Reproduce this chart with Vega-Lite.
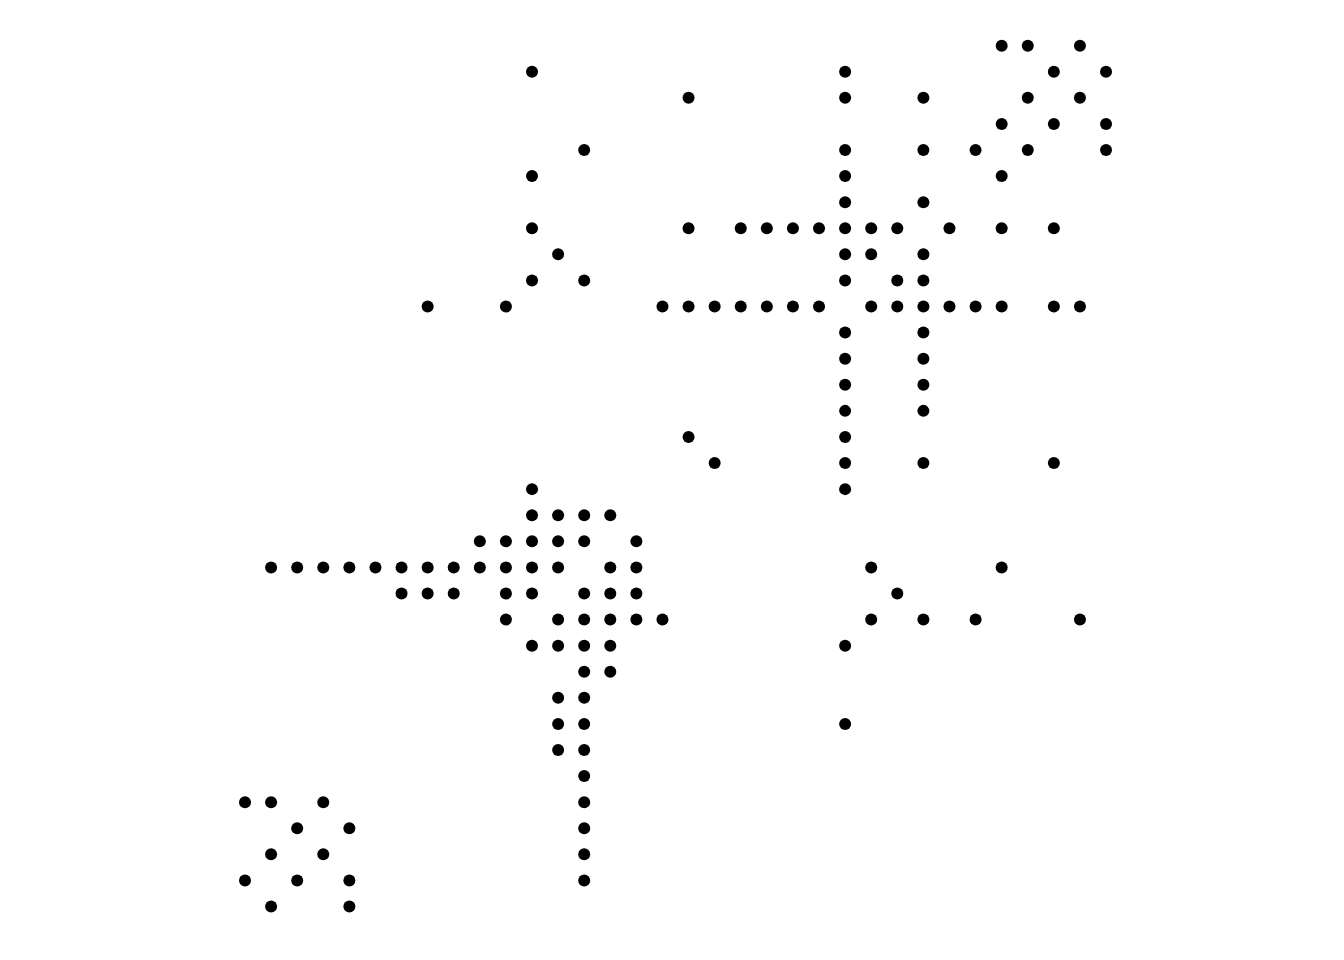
{
  "$schema": "https://vega.github.io/schema/vega-lite/v6.json",
  "description": "Sparse matrix pattern drawn as black dots on a 34 x 34 grid.",
  "width": 1344,
  "height": 960,
  "autosize": "none",
  "padding": 0,
  "background": "white",
  "config": {"view": {"stroke": null}},
  "data": {
    "values": [
      {"col": 29, "row": 0}, {"col": 30, "row": 0}, {"col": 32, "row": 0},
      {"col": 11, "row": 1}, {"col": 23, "row": 1}, {"col": 31, "row": 1}, {"col": 33, "row": 1},
      {"col": 17, "row": 2}, {"col": 23, "row": 2}, {"col": 26, "row": 2}, {"col": 30, "row": 2}, {"col": 32, "row": 2},
      {"col": 29, "row": 3}, {"col": 31, "row": 3}, {"col": 33, "row": 3},
      {"col": 13, "row": 4}, {"col": 23, "row": 4}, {"col": 26, "row": 4}, {"col": 28, "row": 4}, {"col": 30, "row": 4}, {"col": 33, "row": 4},
      {"col": 11, "row": 5}, {"col": 23, "row": 5}, {"col": 29, "row": 5},
      {"col": 23, "row": 6}, {"col": 26, "row": 6},
      {"col": 11, "row": 7}, {"col": 17, "row": 7}, {"col": 19, "row": 7}, {"col": 20, "row": 7}, {"col": 21, "row": 7}, {"col": 22, "row": 7}, {"col": 23, "row": 7}, {"col": 24, "row": 7}, {"col": 25, "row": 7}, {"col": 27, "row": 7}, {"col": 29, "row": 7}, {"col": 31, "row": 7},
      {"col": 12, "row": 8}, {"col": 23, "row": 8}, {"col": 24, "row": 8}, {"col": 26, "row": 8},
      {"col": 11, "row": 9}, {"col": 13, "row": 9}, {"col": 23, "row": 9}, {"col": 25, "row": 9}, {"col": 26, "row": 9},
      {"col": 7, "row": 10}, {"col": 10, "row": 10}, {"col": 16, "row": 10}, {"col": 17, "row": 10}, {"col": 18, "row": 10}, {"col": 19, "row": 10}, {"col": 20, "row": 10}, {"col": 21, "row": 10}, {"col": 22, "row": 10}, {"col": 24, "row": 10}, {"col": 25, "row": 10}, {"col": 26, "row": 10}, {"col": 27, "row": 10}, {"col": 28, "row": 10}, {"col": 29, "row": 10}, {"col": 31, "row": 10}, {"col": 32, "row": 10},
      {"col": 23, "row": 11}, {"col": 26, "row": 11},
      {"col": 23, "row": 12}, {"col": 26, "row": 12},
      {"col": 23, "row": 13}, {"col": 26, "row": 13},
      {"col": 23, "row": 14}, {"col": 26, "row": 14},
      {"col": 17, "row": 15}, {"col": 23, "row": 15},
      {"col": 18, "row": 16}, {"col": 23, "row": 16}, {"col": 26, "row": 16}, {"col": 31, "row": 16},
      {"col": 11, "row": 17}, {"col": 23, "row": 17},
      {"col": 11, "row": 18}, {"col": 12, "row": 18}, {"col": 13, "row": 18}, {"col": 14, "row": 18},
      {"col": 9, "row": 19}, {"col": 10, "row": 19}, {"col": 11, "row": 19}, {"col": 12, "row": 19}, {"col": 13, "row": 19}, {"col": 15, "row": 19},
      {"col": 1, "row": 20}, {"col": 2, "row": 20}, {"col": 3, "row": 20}, {"col": 4, "row": 20}, {"col": 5, "row": 20}, {"col": 6, "row": 20}, {"col": 7, "row": 20}, {"col": 8, "row": 20}, {"col": 9, "row": 20}, {"col": 10, "row": 20}, {"col": 11, "row": 20}, {"col": 12, "row": 20}, {"col": 14, "row": 20}, {"col": 15, "row": 20}, {"col": 24, "row": 20}, {"col": 29, "row": 20},
      {"col": 6, "row": 21}, {"col": 7, "row": 21}, {"col": 8, "row": 21}, {"col": 10, "row": 21}, {"col": 11, "row": 21}, {"col": 13, "row": 21}, {"col": 14, "row": 21}, {"col": 15, "row": 21}, {"col": 25, "row": 21},
      {"col": 10, "row": 22}, {"col": 12, "row": 22}, {"col": 13, "row": 22}, {"col": 14, "row": 22}, {"col": 15, "row": 22}, {"col": 16, "row": 22}, {"col": 24, "row": 22}, {"col": 26, "row": 22}, {"col": 28, "row": 22}, {"col": 32, "row": 22},
      {"col": 11, "row": 23}, {"col": 12, "row": 23}, {"col": 13, "row": 23}, {"col": 14, "row": 23}, {"col": 23, "row": 23},
      {"col": 13, "row": 24}, {"col": 14, "row": 24},
      {"col": 12, "row": 25}, {"col": 13, "row": 25},
      {"col": 12, "row": 26}, {"col": 13, "row": 26}, {"col": 23, "row": 26},
      {"col": 12, "row": 27}, {"col": 13, "row": 27},
      {"col": 13, "row": 28},
      {"col": 0, "row": 29}, {"col": 1, "row": 29}, {"col": 3, "row": 29}, {"col": 13, "row": 29},
      {"col": 2, "row": 30}, {"col": 4, "row": 30}, {"col": 13, "row": 30},
      {"col": 1, "row": 31}, {"col": 3, "row": 31}, {"col": 13, "row": 31},
      {"col": 0, "row": 32}, {"col": 2, "row": 32}, {"col": 4, "row": 32}, {"col": 13, "row": 32},
      {"col": 1, "row": 33}, {"col": 4, "row": 33}
    ]
  },
  "mark": {"type": "circle", "size": 144, "color": "black", "opacity": 1},
  "encoding": {
    "x": {
      "field": "col",
      "type": "quantitative",
      "scale": {"domain": [-9.39, 42.12], "nice": false, "zero": false},
      "axis": null
    },
    "y": {
      "field": "row",
      "type": "quantitative",
      "scale": {"domain": [-1.75, 35.05], "nice": false, "zero": false, "reverse": true},
      "axis": null
    }
  }
}
